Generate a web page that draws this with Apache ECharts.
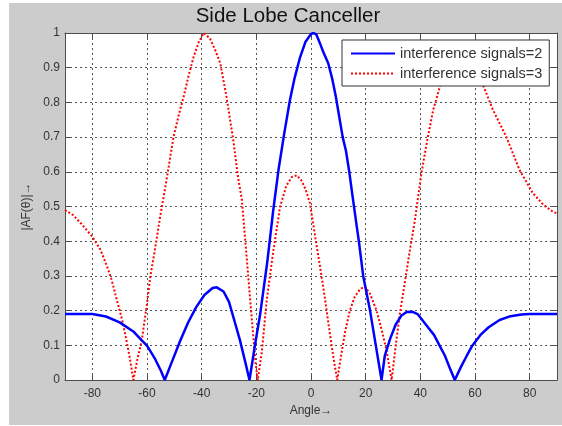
<!DOCTYPE html>
<html>
<head>
<meta charset="utf-8">
<script src="https://cdn.jsdelivr.net/npm/echarts@6/dist/echarts.min.js"></script>
<style>
html,body{margin:0;padding:0;background:#fff;}
#chart{width:562px;height:426px;}
</style>
</head>
<body>
<div id="chart"></div>
<script>
const titleText = 'Side Lobe Canceller';
const seriesNames = ['interference signals=2', 'interference signals=3'];

const blueAngles = [-90,-85,-80,-75,-70,-65,-62,-60,-57,-55,-53.5,-51,-48,-45,-42,-39,-36,-34.5,-32,-30,-28,-26,-24,-22.5,
  -20.5,-18.6,-16,-13.8,-11.9,-9.8,-7.7,-6,-4,-2,0,1,2,3.3,4.5,6.3,7.7,9.1,10.3,11.6,12.8,14,15.2,16.7,17.5,19.1,21.6,24,25.8,
  27,29,31,33,35,37,39,41,43,45,47,49,51,52.6,55,57,59,62,65,69,73,77,80,85,90];
const blueValues = [0.19,0.19,0.19,0.183,0.166,0.14,0.115,0.099,0.06,0.028,0,0.05,0.11,0.165,0.21,0.245,0.265,0.267,0.255,0.225,0.17,0.115,0.05,0,
  0.1,0.19,0.34,0.49,0.605,0.71,0.807,0.87,0.93,0.975,0.997,1.0,0.995,0.97,0.945,0.913,0.87,0.816,0.76,0.70,0.66,0.60,0.53,0.445,0.40,0.30,0.2,0.086,0,
  0.07,0.12,0.16,0.185,0.196,0.197,0.19,0.17,0.15,0.13,0.1,0.07,0.03,0,0.04,0.07,0.099,0.13,0.152,0.173,0.184,0.189,0.19,0.19,0.19];

const redAngles = [-90,-87,-84,-80,-77,-74.6,-73,-71,-69,-67.3,-66,-65,-63.5,-61.9,-60,-58.8,-57,-55.2,-53,-50.3,-48.5,-46.6,-45,-43,-41,-39.3,-37,-35,-33.2,-31,-28.4,-26.8,
  -25.3,-23.5,-21.6,-20.3,-19.5,-18,-16.2,-14,-11.3,-9,-7,-5.2,-3.5,-2,-0.4,1,2,3.3,5,6.9,8.5,9.6,11,12.5,14.2,16,18,19.7,21.5,24,26,27.6,29.5,
  31,32.5,34.5,36.2,38,40.4,42.5,44.7,47.7,50,52.5,55,57.5,60,62.4,66.6,71.5,76.3,81.2,85,88.5,90];
const redValues = [0.49,0.475,0.45,0.413,0.375,0.327,0.29,0.23,0.17,0.106,0.05,0,0.06,0.115,0.22,0.298,0.38,0.47,0.57,0.70,0.76,0.816,0.87,0.93,0.975,1.0,0.985,0.95,0.913,0.82,0.69,0.59,
  0.52,0.35,0.17,0.05,0,0.08,0.23,0.36,0.5,0.56,0.585,0.59,0.575,0.55,0.51,0.44,0.39,0.327,0.24,0.134,0.05,0,0.07,0.14,0.2,0.24,0.262,0.269,0.25,0.2,0.14,0.086,0,
  0.1,0.19,0.29,0.375,0.46,0.596,0.69,0.778,0.86,0.91,0.945,0.96,0.95,0.915,0.86,0.778,0.70,0.605,0.538,0.505,0.485,0.48];

const xName = 'Angle\u2192';
const yName = '|AF(\u03b8)|\u2192';

const FONT = "'Liberation Sans', Arial, sans-serif";
const pairs = (xs, ys) => xs.map((x, i) => [x, ys[i]]);

const chart = echarts.init(document.getElementById('chart'), null, {renderer: 'canvas'});

const axisLineStyle = {color: '#4d4d4d', width: 1};
const splitStyle = {show: true, lineStyle: {color: '#555', width: 1, type: [2, 3]}};

const option = {
  animation: false,
  backgroundColor: '#ffffff',
  graphic: [{
    type: 'rect', z: -10, silent: true,
    shape: {x: 9, y: 3, width: 553, height: 422},
    style: {fill: '#cccccc'}
  }],
  title: {
    text: titleText,
    left: 283, top: 1, textAlign: 'center',
    textStyle: {fontFamily: FONT, fontSize: 20.5, fontWeight: 'normal', color: '#111'}
  },
  legend: {
    data: seriesNames,
    orient: 'vertical',
    left: 342, top: 40,
    padding: [6, 7, 5, 8],
    itemGap: 5,
    itemWidth: 44, itemHeight: 14,
    backgroundColor: '#ffffff',
    borderColor: '#333', borderWidth: 1, borderRadius: 0,
    z: 20,
    itemStyle: {color: 'transparent', borderWidth: 0, opacity: 0},
    textStyle: {fontFamily: FONT, fontSize: 14.5, color: '#333'}
  },
  grid: {
    left: 65, right: 5, top: 33, bottom: 46,
    show: true, backgroundColor: '#ffffff', borderWidth: 0
  },
  xAxis: [{
    type: 'value', min: -90, max: 90, splitNumber: 9, minInterval: 20, maxInterval: 20,
    position: 'bottom',
    name: xName, nameLocation: 'middle', nameGap: 25,
    nameTextStyle: {fontFamily: FONT, fontSize: 12, color: '#333'},
    axisLine: {show: true, onZero: false, lineStyle: axisLineStyle},
    axisTick: {show: true, inside: true, length: 5, lineStyle: axisLineStyle},
    axisLabel: {fontFamily: FONT, fontSize: 12, color: '#333', margin: 8, showMinLabel: false, showMaxLabel: false},
    splitLine: splitStyle
  }, {
    type: 'value', min: -90, max: 90, splitNumber: 9, minInterval: 20, maxInterval: 20,
    position: 'top',
    axisLine: {show: true, onZero: false, lineStyle: axisLineStyle},
    axisTick: {show: true, inside: true, length: 5, lineStyle: axisLineStyle},
    axisLabel: {show: false},
    splitLine: {show: false}
  }],
  yAxis: [{
    type: 'value', min: 0, max: 1, interval: 0.1,
    position: 'left',
    name: yName, nameLocation: 'middle', nameGap: 31,
    nameTextStyle: {fontFamily: FONT, fontSize: 12, color: '#333'},
    axisLine: {show: true, onZero: false, lineStyle: axisLineStyle},
    axisTick: {show: true, inside: true, length: 5, lineStyle: axisLineStyle},
    axisLabel: {fontFamily: FONT, fontSize: 12, color: '#333', margin: 5},
    splitLine: splitStyle
  }, {
    type: 'value', min: 0, max: 1, interval: 0.1,
    position: 'right',
    axisLine: {show: true, onZero: false, lineStyle: axisLineStyle},
    axisTick: {show: true, inside: true, length: 5, lineStyle: axisLineStyle},
    axisLabel: {show: false},
    splitLine: {show: false}
  }],
  series: [{
    name: seriesNames[0],
    type: 'line',
    xAxisIndex: 0, yAxisIndex: 0,
    data: pairs(blueAngles, blueValues),
    symbol: 'none',
    lineStyle: {color: '#0000ff', width: 2.5},
    itemStyle: {color: '#0000ff'},
    z: 5
  }, {
    name: seriesNames[1],
    type: 'line',
    xAxisIndex: 0, yAxisIndex: 0,
    data: pairs(redAngles, redValues),
    symbol: 'none',
    lineStyle: {color: '#ff0000', width: 2, type: [2, 2]},
    itemStyle: {color: '#ff0000'},
    z: 4
  }]
};
chart.setOption(option);
</script>
</body>
</html>
